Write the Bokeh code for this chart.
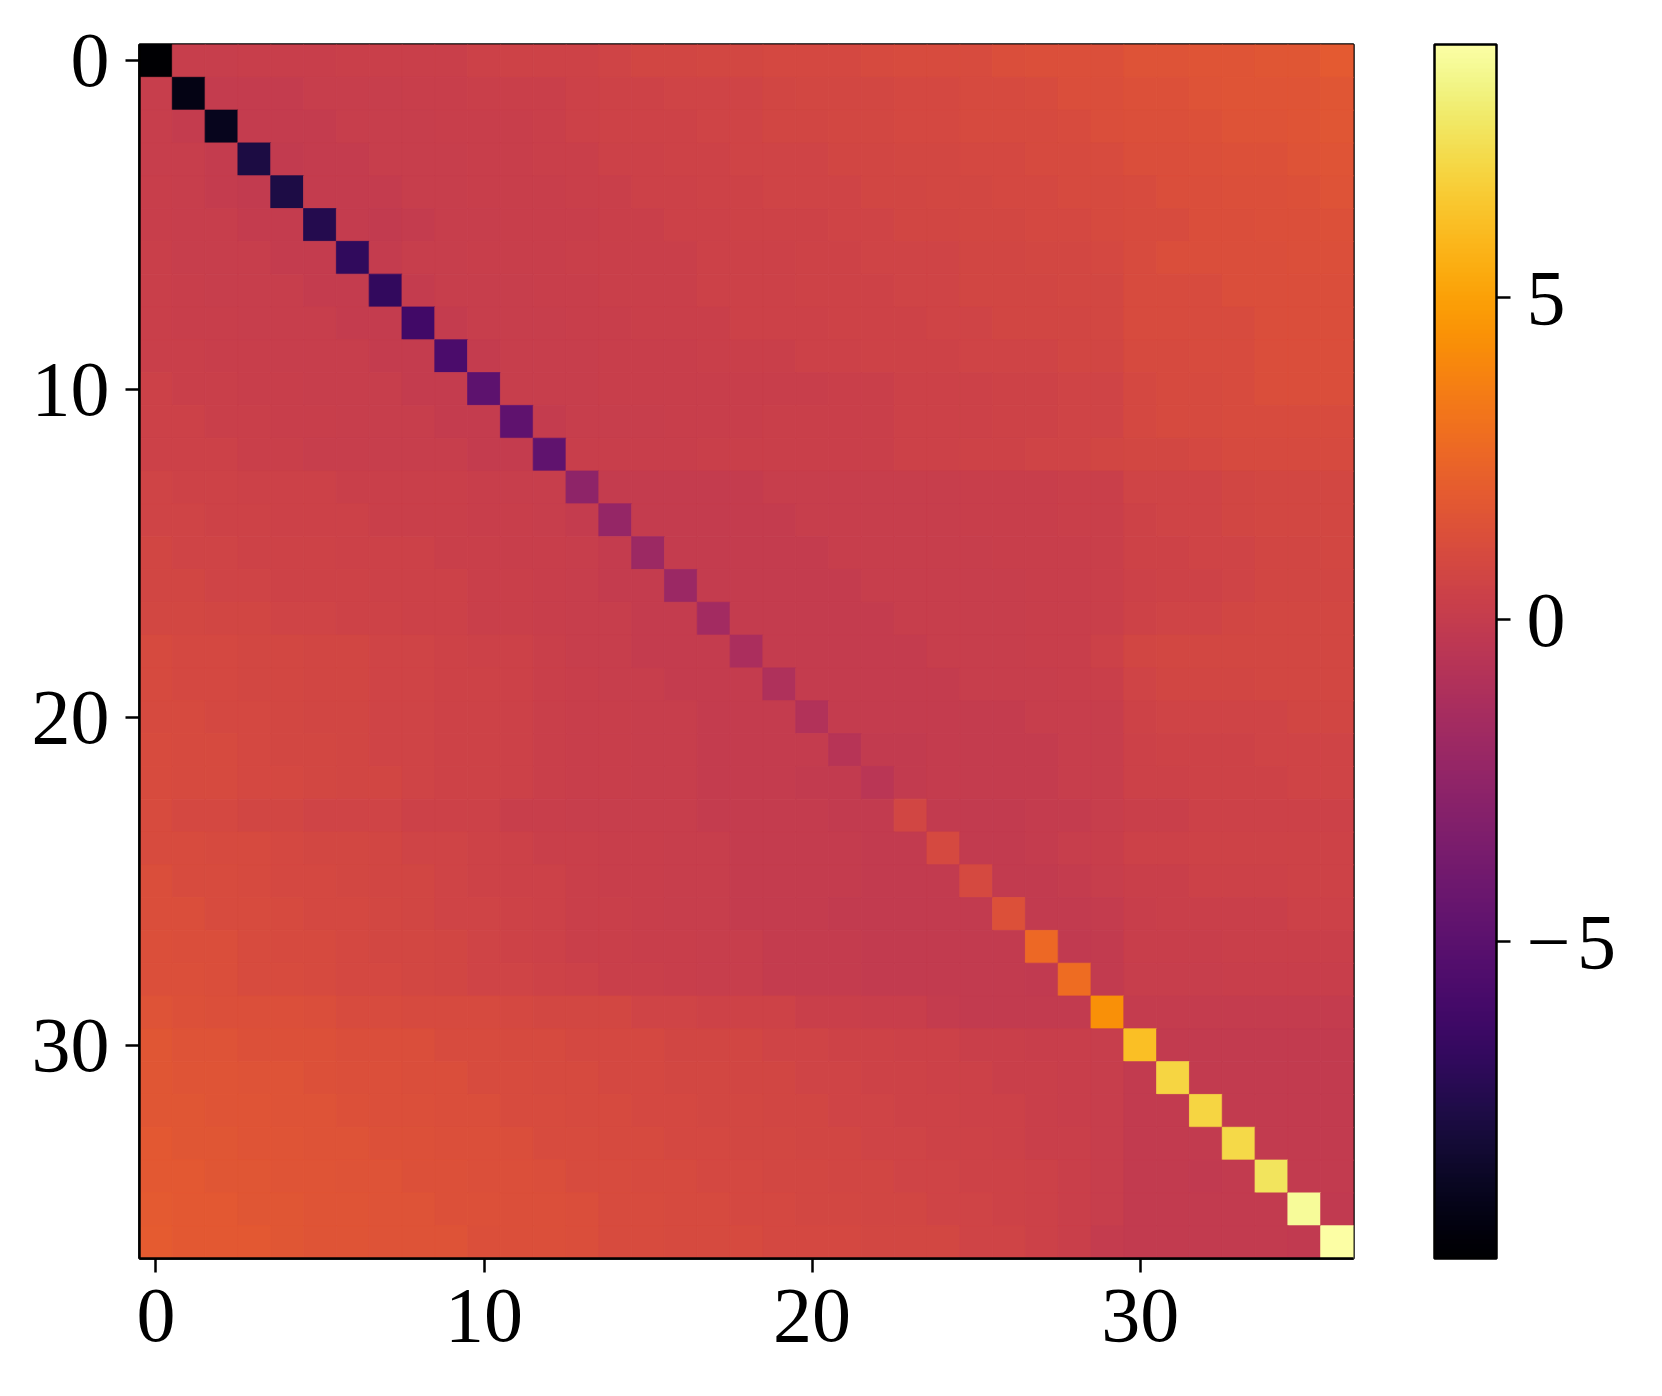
from bokeh.plotting import figure
from bokeh.models import ColumnDataSource, LinearColorMapper, ColorBar, FixedTicker, Range1d
from bokeh.palettes import Inferno256
from bokeh.embed import file_html
from bokeh.resources import INLINE

# Matrix values (row i = y, column j = x)
row_00 = [-9.92, 0.1, 0.1, 0.2, 0.2, 0.2, 0.3, 0.3, 0.3, 0.3, 0.4, 0.5, 0.5, 0.5, 0.6, 0.7, 0.7, 0.8, 0.8, 0.9, 0.9, 0.9, 1.0, 1.1, 1.1, 1.1, 1.2, 1.3, 1.3, 1.3, 1.5, 1.5, 1.6, 1.6, 1.7, 1.7, 1.9]
row_01 = [0.1, -9.2, 0.0, 0.0, 0.0, 0.1, 0.1, 0.1, 0.2, 0.2, 0.3, 0.3, 0.3, 0.4, 0.5, 0.5, 0.6, 0.6, 0.6, 0.7, 0.8, 0.8, 0.8, 0.9, 0.9, 1.0, 1.0, 1.1, 1.2, 1.2, 1.4, 1.4, 1.5, 1.6, 1.6, 1.6, 1.7]
row_02 = [0.1, 0.0, -8.9, 0.0, 0.0, 0.0, 0.1, 0.1, 0.1, 0.2, 0.2, 0.2, 0.3, 0.4, 0.5, 0.5, 0.5, 0.6, 0.6, 0.7, 0.7, 0.8, 0.8, 0.9, 0.9, 1.0, 1.0, 1.0, 1.1, 1.2, 1.3, 1.3, 1.4, 1.5, 1.5, 1.6, 1.7]
row_03 = [0.1, 0.1, 0.0, -7.75, -0.1, 0.0, 0.0, 0.1, 0.1, 0.1, 0.2, 0.2, 0.3, 0.3, 0.4, 0.4, 0.5, 0.5, 0.6, 0.6, 0.6, 0.7, 0.7, 0.8, 0.8, 0.9, 0.9, 1.0, 1.0, 1.1, 1.2, 1.2, 1.3, 1.4, 1.4, 1.5, 1.6]
row_04 = [0.2, 0.1, 0.0, -0.1, -7.7, 0.0, 0.0, 0.0, 0.1, 0.1, 0.2, 0.2, 0.2, 0.3, 0.3, 0.4, 0.4, 0.5, 0.5, 0.6, 0.6, 0.6, 0.7, 0.7, 0.8, 0.8, 0.9, 0.9, 1.0, 1.0, 1.1, 1.2, 1.2, 1.3, 1.3, 1.4, 1.5]
row_05 = [0.2, 0.1, 0.1, 0.0, 0.0, -7.4, 0.0, -0.1, 0.0, 0.1, 0.1, 0.2, 0.2, 0.2, 0.3, 0.3, 0.4, 0.4, 0.5, 0.5, 0.5, 0.6, 0.6, 0.7, 0.7, 0.8, 0.8, 0.9, 0.9, 1.0, 1.1, 1.1, 1.2, 1.2, 1.3, 1.3, 1.4]
row_06 = [0.3, 0.1, 0.1, 0.1, 0.0, 0.0, -6.9, 0.0, 0.1, 0.1, 0.2, 0.2, 0.2, 0.3, 0.3, 0.3, 0.3, 0.4, 0.4, 0.4, 0.5, 0.5, 0.6, 0.6, 0.6, 0.7, 0.7, 0.8, 0.8, 0.9, 1.1, 1.2, 1.2, 1.2, 1.2, 1.3, 1.3]
row_07 = [0.3, 0.2, 0.1, 0.1, 0.1, 0.0, 0.0, -6.8, 0.0, 0.1, 0.1, 0.1, 0.2, 0.2, 0.3, 0.3, 0.3, 0.4, 0.4, 0.4, 0.5, 0.5, 0.5, 0.6, 0.6, 0.7, 0.7, 0.7, 0.8, 0.8, 1.1, 1.1, 1.1, 1.2, 1.2, 1.2, 1.2]
row_08 = [0.3, 0.2, 0.2, 0.1, 0.1, 0.1, 0.0, 0.0, -6.15, 0.0, 0.1, 0.1, 0.1, 0.2, 0.2, 0.3, 0.3, 0.3, 0.4, 0.4, 0.4, 0.5, 0.5, 0.5, 0.6, 0.6, 0.7, 0.7, 0.7, 0.8, 1.1, 1.1, 1.1, 1.1, 1.2, 1.2, 1.2]
row_09 = [0.3, 0.3, 0.2, 0.2, 0.1, 0.1, 0.1, 0.0, 0.0, -5.7, 0.0, 0.1, 0.1, 0.1, 0.2, 0.2, 0.2, 0.3, 0.3, 0.3, 0.4, 0.4, 0.5, 0.5, 0.5, 0.6, 0.6, 0.6, 0.7, 0.7, 1.0, 1.0, 1.1, 1.1, 1.2, 1.2, 1.2]
row_10 = [0.4, 0.3, 0.3, 0.2, 0.2, 0.1, 0.1, 0.1, 0.0, 0.0, -4.9, 0.1, 0.1, 0.1, 0.2, 0.2, 0.2, 0.2, 0.2, 0.2, 0.2, 0.3, 0.3, 0.4, 0.4, 0.4, 0.5, 0.5, 0.6, 0.6, 0.9, 1.0, 1.0, 1.1, 1.2, 1.2, 1.2]
row_11 = [0.4, 0.4, 0.3, 0.3, 0.2, 0.2, 0.1, 0.1, 0.1, 0.0, 0.0, -4.83, 0.0, 0.1, 0.1, 0.1, 0.2, 0.2, 0.2, 0.3, 0.3, 0.3, 0.3, 0.4, 0.4, 0.4, 0.5, 0.5, 0.6, 0.6, 0.9, 1.0, 1.0, 1.1, 1.1, 1.1, 1.1]
row_12 = [0.4, 0.4, 0.4, 0.3, 0.3, 0.1, 0.1, 0.1, 0.1, 0.1, 0.0, 0.0, -4.7, 0.2, 0.2, 0.2, 0.2, 0.3, 0.3, 0.3, 0.3, 0.3, 0.3, 0.4, 0.4, 0.5, 0.5, 0.6, 0.6, 0.7, 0.8, 0.8, 0.9, 1.0, 1.0, 1.0, 1.0]
row_13 = [0.6, 0.5, 0.5, 0.4, 0.4, 0.4, 0.3, 0.3, 0.3, 0.3, 0.2, 0.1, 0.1, -2.6, 0.0, 0.0, 0.0, 0.0, 0.0, 0.1, 0.1, 0.1, 0.1, 0.1, 0.1, 0.2, 0.2, 0.2, 0.3, 0.3, 0.6, 0.6, 0.6, 0.7, 0.8, 0.8, 0.8]
row_14 = [0.6, 0.6, 0.5, 0.5, 0.4, 0.4, 0.4, 0.3, 0.3, 0.3, 0.2, 0.2, 0.1, 0.0, -2.3, 0.0, 0.0, 0.0, 0.0, 0.0, 0.1, 0.1, 0.1, 0.1, 0.1, 0.2, 0.2, 0.2, 0.3, 0.3, 0.5, 0.6, 0.6, 0.7, 0.8, 0.8, 0.8]
row_15 = [0.7, 0.6, 0.6, 0.5, 0.5, 0.5, 0.4, 0.4, 0.4, 0.3, 0.3, 0.2, 0.2, 0.1, 0.0, -1.9, 0.0, 0.0, 0.0, 0.0, 0.0, 0.1, 0.1, 0.1, 0.1, 0.1, 0.2, 0.2, 0.2, 0.3, 0.5, 0.5, 0.6, 0.6, 0.7, 0.7, 0.8]
row_16 = [0.7, 0.7, 0.6, 0.6, 0.5, 0.5, 0.5, 0.4, 0.4, 0.4, 0.3, 0.3, 0.2, 0.1, 0.0, 0.0, -2.0, 0.0, 0.0, 0.0, 0.0, 0.0, 0.1, 0.1, 0.1, 0.1, 0.1, 0.2, 0.2, 0.3, 0.4, 0.5, 0.5, 0.6, 0.7, 0.7, 0.7]
row_17 = [0.8, 0.8, 0.7, 0.7, 0.6, 0.6, 0.5, 0.5, 0.4, 0.4, 0.3, 0.3, 0.2, 0.1, 0.1, 0.0, 0.0, -1.6, 0.0, 0.0, 0.0, 0.0, 0.0, 0.1, 0.1, 0.1, 0.1, 0.2, 0.2, 0.3, 0.5, 0.6, 0.6, 0.7, 0.8, 0.8, 0.8]
row_18 = [1.0, 0.9, 0.9, 0.8, 0.8, 0.7, 0.7, 0.6, 0.6, 0.5, 0.4, 0.4, 0.3, 0.1, 0.1, 0.0, 0.0, 0.0, -1.25, 0.0, 0.0, 0.0, 0.0, 0.0, 0.1, 0.1, 0.1, 0.2, 0.2, 0.4, 0.7, 0.8, 0.8, 0.8, 0.8, 0.8, 0.8]
row_19 = [1.0, 0.9, 0.9, 0.8, 0.8, 0.7, 0.7, 0.6, 0.6, 0.5, 0.5, 0.4, 0.3, 0.2, 0.1, 0.1, 0.0, 0.0, 0.0, -1.05, 0.0, 0.0, 0.0, 0.0, 0.0, 0.1, 0.1, 0.1, 0.2, 0.3, 0.6, 0.7, 0.7, 0.7, 0.8, 0.8, 0.8]
row_20 = [1.0, 1.0, 0.9, 0.9, 0.8, 0.7, 0.7, 0.6, 0.6, 0.5, 0.5, 0.4, 0.3, 0.2, 0.2, 0.1, 0.1, 0.0, 0.0, 0.0, -0.87, 0.0, 0.0, 0.0, 0.0, 0.0, 0.0, 0.1, 0.1, 0.1, 0.5, 0.6, 0.6, 0.6, 0.6, 0.7, 0.7]
row_21 = [1.1, 1.0, 1.0, 0.9, 0.8, 0.8, 0.7, 0.6, 0.6, 0.5, 0.5, 0.4, 0.3, 0.2, 0.2, 0.1, 0.1, 0.0, 0.0, 0.0, 0.0, -0.68, -0.1, -0.1, 0.0, 0.0, 0.0, 0.0, 0.1, 0.1, 0.4, 0.5, 0.5, 0.5, 0.6, 0.6, 0.6]
row_22 = [1.1, 1.0, 1.0, 0.9, 0.9, 0.8, 0.7, 0.7, 0.6, 0.5, 0.5, 0.4, 0.3, 0.2, 0.2, 0.1, 0.1, 0.0, 0.0, 0.0, -0.1, -0.1, -0.55, -0.1, 0.0, 0.0, 0.0, 0.0, 0.1, 0.1, 0.4, 0.4, 0.5, 0.5, 0.5, 0.6, 0.6]
row_23 = [1.1, 0.9, 0.9, 0.7, 0.7, 0.6, 0.6, 0.6, 0.4, 0.4, 0.4, 0.2, 0.2, 0.1, 0.1, 0.1, 0.1, 0.0, 0.0, 0.0, 0.0, -0.1, -0.1, 0.73, -0.1, -0.1, -0.1, 0.0, 0.0, 0.1, 0.3, 0.3, 0.4, 0.4, 0.4, 0.4, 0.4]
row_24 = [1.1, 1.1, 1.0, 1.0, 0.9, 0.8, 0.8, 0.7, 0.6, 0.6, 0.5, 0.4, 0.3, 0.3, 0.2, 0.2, 0.1, 0.1, 0.0, 0.0, 0.0, 0.0, -0.1, -0.1, 0.92, -0.1, -0.1, 0.0, 0.1, 0.2, 0.4, 0.4, 0.5, 0.5, 0.5, 0.5, 0.5]
row_25 = [1.2, 1.1, 1.1, 1.0, 0.9, 0.9, 0.8, 0.7, 0.7, 0.6, 0.5, 0.4, 0.4, 0.3, 0.2, 0.2, 0.1, 0.1, 0.0, 0.0, 0.0, 0.0, -0.1, -0.1, -0.1, 0.95, -0.1, -0.1, 0.0, 0.1, 0.3, 0.3, 0.4, 0.4, 0.4, 0.5, 0.5]
row_26 = [1.2, 1.2, 1.1, 1.1, 1.0, 0.9, 0.9, 0.8, 0.7, 0.6, 0.6, 0.5, 0.4, 0.3, 0.3, 0.2, 0.1, 0.1, 0.0, 0.0, 0.0, -0.1, -0.1, -0.1, -0.1, -0.1, 1.4, -0.1, -0.1, 0.0, 0.2, 0.3, 0.3, 0.3, 0.3, 0.4, 0.4]
row_27 = [1.3, 1.2, 1.2, 1.1, 1.0, 1.0, 0.9, 0.8, 0.8, 0.7, 0.6, 0.5, 0.4, 0.3, 0.3, 0.2, 0.2, 0.1, 0.1, 0.0, 0.0, 0.0, -0.1, -0.1, -0.1, -0.1, -0.1, 2.67, -0.2, -0.1, 0.2, 0.2, 0.2, 0.3, 0.3, 0.3, 0.3]
row_28 = [1.3, 1.3, 1.2, 1.1, 1.1, 1.0, 0.9, 0.9, 0.8, 0.7, 0.6, 0.6, 0.5, 0.4, 0.3, 0.3, 0.2, 0.1, 0.1, 0.0, 0.0, 0.0, -0.1, -0.1, -0.1, -0.1, -0.1, -0.2, 2.75, -0.1, 0.1, 0.1, 0.1, 0.2, 0.2, 0.2, 0.2]
row_29 = [1.5, 1.4, 1.3, 1.3, 1.3, 1.2, 1.1, 1.1, 1.0, 1.0, 1.0, 0.9, 0.8, 0.8, 0.8, 0.6, 0.6, 0.5, 0.5, 0.5, 0.3, 0.3, 0.2, 0.2, 0.0, -0.1, -0.1, -0.1, -0.1, 4.3, 0.0, 0.0, 0.0, 0.0, 0.0, 0.0, 0.0]
row_30 = [1.7, 1.5, 1.5, 1.4, 1.4, 1.4, 1.2, 1.2, 1.2, 1.1, 1.1, 1.0, 1.0, 0.9, 0.9, 0.9, 0.7, 0.7, 0.7, 0.6, 0.6, 0.5, 0.5, 0.4, 0.4, 0.3, 0.3, 0.2, 0.2, 0.1, 6.2, -0.1, -0.1, -0.1, -0.1, -0.1, -0.1]
row_31 = [1.7, 1.6, 1.6, 1.5, 1.5, 1.4, 1.3, 1.3, 1.2, 1.2, 1.1, 1.1, 1.0, 1.0, 0.9, 0.9, 0.8, 0.8, 0.7, 0.7, 0.6, 0.6, 0.5, 0.5, 0.4, 0.4, 0.3, 0.3, 0.2, 0.1, -0.1, 6.95, -0.1, -0.1, -0.1, -0.1, -0.1]
row_32 = [1.7, 1.7, 1.6, 1.6, 1.5, 1.5, 1.4, 1.3, 1.3, 1.2, 1.2, 1.1, 1.1, 1.0, 1.0, 0.9, 0.9, 0.8, 0.8, 0.7, 0.7, 0.6, 0.6, 0.5, 0.5, 0.4, 0.4, 0.3, 0.2, 0.1, -0.1, -0.1, 7.0, -0.1, -0.1, -0.1, -0.1]
row_33 = [1.8, 1.7, 1.7, 1.6, 1.6, 1.5, 1.5, 1.4, 1.4, 1.3, 1.3, 1.2, 1.1, 1.1, 1.0, 1.0, 0.9, 0.9, 0.8, 0.8, 0.7, 0.7, 0.6, 0.6, 0.5, 0.5, 0.4, 0.3, 0.3, 0.1, -0.1, -0.1, -0.1, 7.15, -0.1, -0.1, -0.1]
row_34 = [1.8, 1.8, 1.7, 1.7, 1.6, 1.6, 1.5, 1.5, 1.4, 1.4, 1.3, 1.3, 1.2, 1.1, 1.1, 1.0, 1.0, 0.9, 0.9, 0.8, 0.8, 0.7, 0.7, 0.6, 0.6, 0.5, 0.5, 0.4, 0.3, 0.1, -0.1, -0.1, -0.2, -0.1, 7.6, -0.1, -0.1]
row_35 = [1.9, 1.8, 1.8, 1.7, 1.7, 1.6, 1.6, 1.5, 1.5, 1.4, 1.4, 1.3, 1.3, 1.2, 1.1, 1.1, 1.0, 1.0, 0.9, 0.9, 0.8, 0.8, 0.7, 0.7, 0.6, 0.6, 0.5, 0.4, 0.3, 0.1, -0.1, -0.1, -0.1, -0.1, -0.1, 8.65, -0.2]
row_36 = [2.0, 1.8, 1.8, 1.8, 1.7, 1.6, 1.6, 1.5, 1.5, 1.5, 1.3, 1.3, 1.3, 1.2, 1.1, 1.1, 1.0, 1.0, 1.0, 0.9, 0.9, 0.9, 0.8, 0.8, 0.8, 0.6, 0.6, 0.4, 0.3, 0.0, -0.1, -0.1, -0.1, -0.1, -0.1, -0.2, 8.93]

rows = [row_00, row_01, row_02, row_03, row_04, row_05, row_06, row_07, row_08, row_09,
        row_10, row_11, row_12, row_13, row_14, row_15, row_16, row_17, row_18, row_19,
        row_20, row_21, row_22, row_23, row_24, row_25, row_26, row_27, row_28, row_29,
        row_30, row_31, row_32, row_33, row_34, row_35, row_36]

axis_ticks = [0, 10, 20, 30]
cbar_ticks = [-5, 0, 5]
cbar_labels = {-5: "\u2212\u200a5", 0: "0", 5: "5"}
v_low, v_high = -9.92, 8.93

xs, ys, vs = [], [], []
for i, r in enumerate(rows):
    for j, v in enumerate(r):
        xs.append(j)
        ys.append(i)
        vs.append(v)
src = ColumnDataSource(dict(x=xs, y=ys, v=vs))

n = len(rows)
mapper = LinearColorMapper(palette=Inferno256, low=v_low, high=v_high)

FONT = "Liberation Serif"
FS = "78px"

p = figure(frame_width=1214, frame_height=1214,
           x_range=Range1d(-0.5, n - 0.5), y_range=Range1d(n - 0.5, -0.5),
           output_backend="svg", toolbar_location=None,
           min_border_left=139, min_border_top=44, min_border_bottom=100, min_border_right=20)

p.rect(x="x", y="y", width=1, height=1, source=src,
       fill_color={"field": "v", "transform": mapper},
       line_color={"field": "v", "transform": mapper}, line_width=0.8, dilate=True)

p.grid.visible = False
p.outline_line_color = "black"
p.outline_line_width = 2.5
p.outline_line_alpha = 1
for ax in (p.xaxis[0], p.yaxis[0]):
    ax.ticker = FixedTicker(ticks=axis_ticks)
    ax.major_label_text_font = FONT
    ax.major_label_text_font_size = FS
    ax.major_label_text_color = "black"
    ax.major_tick_in = 0
    ax.major_tick_out = 14
    ax.major_tick_line_width = 2.5
    ax.major_tick_line_color = "black"
    ax.minor_tick_line_color = None
    ax.axis_line_width = 2.5
    ax.axis_line_color = "black"
p.xaxis.major_label_standoff = 17
p.yaxis.major_label_standoff = 16

cb = ColorBar(color_mapper=mapper, ticker=FixedTicker(ticks=cbar_ticks),
              major_label_overrides=cbar_labels,
              width=62, height=1214, location=(81, 0), padding=0, margin=0,
              major_tick_in=0, major_tick_out=14, major_tick_line_color="black",
              major_tick_line_width=2.5, minor_tick_line_color=None,
              bar_line_color="black", bar_line_width=2.5,
              label_standoff=16, major_label_text_font=FONT,
              major_label_text_font_size=FS, major_label_text_color="black",
              border_line_color=None, background_fill_color=None)
p.add_layout(cb, "right")

open("out.html", "w").write(file_html(p, INLINE))
